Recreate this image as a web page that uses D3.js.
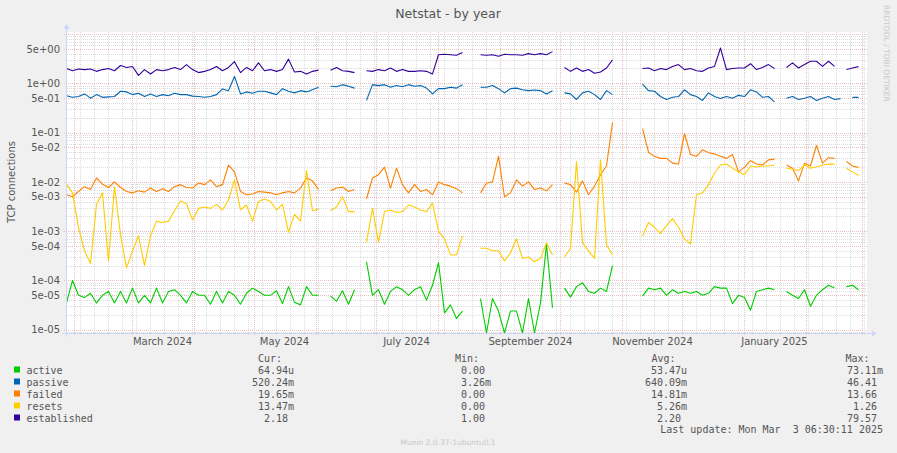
<!DOCTYPE html>
<html>
<head>
<meta charset="utf-8">
<script src="https://cdn.jsdelivr.net/npm/d3@7"></script>
<style>
body{margin:0;background:#f0f0f0;}
text{font-family:"DejaVu Sans",sans-serif;fill:#555;}
.mono{font-family:"DejaVu Sans Mono",monospace;white-space:pre;font-size:10px;}
</style>
</head>
<body>
<svg id="chart" width="897" height="453"></svg>
<script>
// time range of the year graph, one sample every 3 days
var yearStart = new Date(Date.UTC(2024, 0, 28, 6, 30, 11));
var yearEnd = new Date(Date.UTC(2025, 2, 3, 6, 30, 11));
var stepDays = 3;

var monthLabels = ["March 2024","May 2024","July 2024","September 2024","November 2024","January 2025"];
var labelDates = ["2024-03-16","2024-05-16","2024-07-16","2024-09-16","2024-11-16","2025-01-16"];
var yTicks = [5, 1, 0.5, 0.1, 0.05, 0.01, 0.005, 0.001, 5e-4, 1e-4, 5e-5, 1e-5];

var seriesNames = ["active","passive","failed","resets","established"];
var seriesColors = ["#00cc00","#0066b3","#ff8000","#ffcc00","#330099"];
var curText = [" 64.94u","520.24m"," 19.65m"," 13.47m","  2.18 "];
var minText = [" 0.00 "," 3.26m"," 0.00 "," 0.00 "," 1.00 "];
var avgText = [" 53.47u","640.09m"," 14.81m","  5.26m","  2.20 "];
var maxText = [" 73.11m"," 46.41 "," 13.66 ","  1.26 "," 79.57 "];

var active = [
3.5e-5,1.0e-4,5e-5,4.5e-5,5.5e-5,3.5e-5,5e-5,6e-5,3.5e-5,6e-5,
3.5e-5,7e-5,3.5e-5,5e-5,3.5e-5,7e-5,3.5e-5,6e-5,6.5e-5,5e-5,
3.5e-5,6e-5,5e-5,5e-5,3.3e-5,6e-5,3.5e-5,6e-5,5e-5,3.3e-5,
5.5e-5,7e-5,6e-5,5e-5,5e-5,6.2e-5,3.4e-5,7.5e-5,3.6e-5,3.2e-5,
7.5e-5,5e-5,5e-5,null,4.8e-5,3.8e-5,6.2e-5,3.3e-5,6.5e-5,null,
2.4e-4,5e-5,6.5e-5,3.3e-5,6e-5,7.5e-5,6.5e-5,5e-5,6.5e-5,7.5e-5,
4e-5,8e-5,2.3e-4,2.2e-5,3.2e-5,1.7e-5,2.4e-5,null,null,4.3e-5,
0,4.3e-5,2.4e-5,0,2.4e-5,2.4e-5,0,4.3e-5,0,3.5e-5,
5.5e-4,2.8e-5,null,7e-5,4.6e-5,7.5e-5,9e-5,6e-5,5.5e-5,7e-5,
6e-5,2e-4,null,null,null,null,4.8e-5,7e-5,6.5e-5,7e-5,
5e-5,6.5e-5,5.5e-5,6e-5,5.5e-5,6e-5,5e-5,5.5e-5,7.5e-5,7e-5,
7e-5,3.4e-5,5e-5,4.5e-5,2.5e-5,6e-5,6.5e-5,7e-5,6.5e-5,null,
6e-5,5e-5,4.3e-5,6.5e-5,3e-5,5e-5,6.5e-5,8e-5,7e-5,null,
7.5e-5,8e-5,6.5e-5,null];

var passive = [
0.56,0.52,0.54,0.61,0.5,0.59,0.52,0.53,0.54,0.69,
0.67,0.59,0.63,0.54,0.61,0.54,0.59,0.56,0.63,0.59,
0.59,0.55,0.54,0.52,0.54,0.59,0.77,0.71,1.38,0.61,
0.67,0.63,0.69,0.69,0.64,0.59,0.78,0.69,0.64,0.71,
0.67,0.74,0.83,null,0.87,0.85,0.94,0.87,0.8,null,
0.45,0.94,0.9,0.94,0.83,0.9,0.85,0.94,0.87,0.9,
0.8,0.61,0.78,0.78,0.83,0.8,0.94,null,null,0.83,
0.83,0.9,0.78,0.64,0.78,0.8,0.74,0.71,0.73,0.71,
0.61,0.71,null,0.64,0.61,0.47,0.64,0.69,0.59,0.47,
0.71,0.59,null,null,null,null,0.96,0.71,0.69,0.54,
0.47,0.52,0.54,0.74,0.59,0.54,0.45,0.64,0.54,0.49,
0.54,0.5,0.57,0.54,0.74,0.67,0.52,0.54,0.42,null,
0.5,0.54,0.47,0.5,0.54,0.45,0.5,0.54,0.47,0.49,
null,0.52,0.52,null];

var failed = [
0.0055,0.005,0.0064,0.008,0.007,0.012,0.009,0.0077,0.01,0.0077,
0.0064,0.006,0.0066,0.0062,0.0075,0.0064,0.0073,0.0064,0.008,0.0088,
0.0077,0.0075,0.0095,0.0088,0.011,0.008,0.0088,0.022,0.016,0.0064,
0.0055,0.0057,0.0064,0.0062,0.006,0.0055,0.006,0.0064,0.006,0.0075,
0.012,0.0105,0.007,null,0.0066,0.0075,0.0079,0.0064,0.007,null,
0.0045,0.012,0.014,0.02,0.0075,0.019,0.0088,0.006,0.0088,0.0064,
0.007,0.0055,0.01,0.0088,0.0082,0.0073,0.006,null,null,0.006,
0.0095,0.01,0.033,0.005,0.006,0.011,0.0082,0.01,0.007,0.0075,
0.0066,0.0088,null,0.0095,0.0088,0.0062,0.0105,0.0055,0.0082,0.014,
0.021,0.16,null,null,null,null,0.12,0.04,0.033,0.03,
0.03,0.024,0.023,0.095,0.036,0.033,0.045,0.039,0.037,0.033,
0.03,0.036,0.016,0.02,0.027,0.023,0.022,0.028,0.029,null,
0.022,0.019,0.0105,0.024,0.021,0.055,0.024,0.031,0.03,null,
0.026,0.021,0.0197,null];

var resets = [
0.009,0.006,0.0012,0.0004,0.00022,0.0035,0.006,0.00025,0.008,0.00085,
0.00018,0.0004,0.0008,0.0002,0.0008,0.0016,0.0015,0.0016,0.0026,0.0041,
0.0036,0.0017,0.0029,0.0031,0.0029,0.0035,0.0027,0.0043,0.011,0.0027,
0.0034,0.0016,0.004,0.0045,0.004,0.0027,0.0035,0.00095,0.0022,0.0016,
0.017,0.0026,0.0028,null,0.0026,0.0031,0.005,0.0025,0.0025,null,
0.0006,0.0029,0.0006,0.0025,0.0027,0.0024,0.0025,0.0034,0.0031,0.0027,
0.0025,0.0037,0.001,0.0007,0.00033,0.00033,0.0008,null,null,0.00045,
0.00045,0.0004,0.0004,0.00025,0.00036,0.0007,0.00028,0.0003,0.00024,0.00028,
0.00058,0.00033,null,0.0003,0.00045,0.026,0.00058,0.0004,0.00028,0.028,
0.00053,0.00033,null,null,null,null,0.0008,0.0015,0.0012,0.0009,
0.0013,0.0018,0.0012,0.0007,0.00055,0.0055,0.006,0.0088,0.015,0.022,
0.023,0.019,0.016,0.014,0.021,0.02,0.021,0.021,0.022,null,
0.019,0.018,0.017,0.022,0.019,0.02,0.022,0.023,0.023,null,
0.019,0.016,0.0135,null];

var established = [
2.0,1.8,1.95,1.9,1.95,1.75,1.9,2.0,1.8,2.3,
2.1,2.2,1.45,1.9,1.55,1.9,1.8,1.9,2.1,1.9,
2.4,1.9,1.65,1.75,1.9,2.2,1.8,2.1,2.75,1.65,
2.1,1.8,2.6,1.8,1.9,1.75,1.9,3.1,1.7,1.75,
1.55,1.75,1.85,null,1.85,2.1,1.8,1.75,1.65,null,
1.8,1.75,1.9,1.8,2.05,1.75,1.9,1.75,1.75,1.8,
1.75,1.55,3.8,3.9,3.8,3.7,4.2,null,null,3.8,
3.7,3.8,3.55,3.9,3.8,3.8,3.7,4.0,3.8,4.0,
3.8,4.4,null,2.1,1.75,2.05,1.75,1.9,1.6,1.7,
2.05,3.0,null,null,null,null,2.0,2.05,1.8,2.0,
1.9,2.2,2.4,1.9,2.0,1.8,1.75,2.05,2.2,5.2,
1.9,2.0,2.05,2.05,2.5,1.9,2.1,2.4,2.0,null,
2.1,2.6,2.05,2.4,2.8,2.8,2.2,2.8,2.2,null,
1.9,2.05,2.18,null];

var seriesData = [active, passive, failed, resets, established];

var svg = d3.select("#chart");
svg.append("rect").attr("width", 897).attr("height", 453).attr("fill", "#f0f0f0");

var plot = {left: 67, right: 867, top: 32, bottom: 333};
svg.append("rect")
   .attr("x", plot.left).attr("y", plot.top)
   .attr("width", plot.right - plot.left).attr("height", plot.bottom - plot.top)
   .attr("fill", "#ffffff");

var xScale = d3.scaleUtc().domain([yearStart, yearEnd]).range([66.5, 866.5]);
var yScale = d3.scaleLog().domain([8.6e-6, 11]).range([plot.bottom, plot.top]).clamp(true);

var gridMinor = "#dcdcdc", gridMajor = "#ebbdbd", axisColor = "#cfd6f8";

// horizontal grid, 1 and 5 of each decade are the major lines
var minorY = [], majorY = [];
for (var e = -6; e <= 1; e++) {
  for (var m = 1; m <= 9; m++) {
    var v = m * Math.pow(10, e);
    if (v < 8.6e-6 || v > 11) continue;
    if (m == 1 || m == 5) majorY.push(v); else minorY.push(v);
  }
}
var grid = svg.append("g");
grid.selectAll(".hmin").data(minorY).enter().append("line")
    .attr("x1", plot.left).attr("x2", plot.right)
    .attr("y1", function(d){return Math.round(yScale(d)) + 0.5})
    .attr("y2", function(d){return Math.round(yScale(d)) + 0.5})
    .attr("stroke", gridMinor).attr("stroke-dasharray", "1,1");
grid.selectAll(".vmin").data(d3.utcSunday.range(yearStart, yearEnd)).enter().append("line")
    .attr("x1", function(d){return Math.round(xScale(d)) + 0.5})
    .attr("x2", function(d){return Math.round(xScale(d)) + 0.5})
    .attr("y1", plot.top).attr("y2", plot.bottom + 2)
    .attr("stroke", gridMinor).attr("stroke-dasharray", "1,1");
grid.selectAll(".hmaj").data(majorY).enter().append("line")
    .attr("x1", plot.left - 3).attr("x2", plot.right)
    .attr("y1", function(d){return Math.round(yScale(d)) + 0.5})
    .attr("y2", function(d){return Math.round(yScale(d)) + 0.5})
    .attr("stroke", gridMajor).attr("stroke-dasharray", "1,1");
grid.selectAll(".vmaj").data(d3.utcMonth.range(yearStart, yearEnd)).enter().append("line")
    .attr("x1", function(d){return Math.round(xScale(d)) + 0.5})
    .attr("x2", function(d){return Math.round(xScale(d)) + 0.5})
    .attr("y1", plot.top).attr("y2", plot.bottom + 3)
    .attr("stroke", gridMajor).attr("stroke-dasharray", "1,1");

// series lines
var dates = d3.range(active.length).map(function(i){return d3.utcDay.offset(yearStart, i * stepDays)});
var drawLine = d3.line()
    .defined(function(d){return d[1] != null})
    .x(function(d){return xScale(d[0])})
    .y(function(d){return yScale(d[1])});
seriesData.forEach(function(values, k){
  svg.append("path")
     .datum(values.map(function(v, i){return [dates[i], v]}))
     .attr("d", drawLine)
     .attr("fill", "none")
     .attr("stroke", seriesColors[k])
     .attr("stroke-width", 1.1)
     .attr("stroke-linejoin", "round");
});

// axes lines with arrows
svg.append("line").attr("x1", 62).attr("x2", 872).attr("y1", 333.5).attr("y2", 333.5).attr("stroke", axisColor);
svg.append("path").attr("d", "M872,330.5L877,333.5L872,336.5Z").attr("fill", axisColor);
svg.append("line").attr("x1", 66.5).attr("x2", 66.5).attr("y1", 337).attr("y2", 29).attr("stroke", axisColor);
svg.append("path").attr("d", "M63.5,29L66.5,24L69.5,29Z").attr("fill", axisColor);

var fmtExp = function(v){
  var ex = Math.floor(Math.log10(v) + 1e-9);
  var man = Math.round(v / Math.pow(10, ex));
  return man + "e" + (ex < 0 ? "-" : "+") + String(Math.abs(ex)).padStart(2, "0");
};
var yAxis = d3.axisLeft(yScale).tickValues(yTicks).tickFormat(fmtExp).tickSize(0).tickPadding(7);
var yg = svg.append("g").attr("transform", "translate(" + plot.left + ",0)").call(yAxis);
yg.select(".domain").remove();
yg.selectAll("text").attr("font-size", 10).attr("font-family", "DejaVu Sans").attr("fill", "#555");

var xAxis = d3.axisBottom(xScale)
    .tickValues(labelDates.map(function(s){return new Date(s + "T00:00:00Z")}))
    .tickFormat(function(d, i){return monthLabels[i]})
    .tickSize(0).tickPadding(5);
var xg = svg.append("g").attr("transform", "translate(0," + plot.bottom + ")").call(xAxis);
xg.select(".domain").remove();
xg.selectAll("text").attr("font-size", 10).attr("font-family", "DejaVu Sans").attr("fill", "#555");

// titles
svg.append("text").attr("x", 448).attr("y", 18).attr("text-anchor", "middle")
   .attr("font-size", 12.5).text("Netstat - by year");
svg.append("text").attr("transform", "translate(15,182) rotate(-90)").attr("text-anchor", "middle")
   .attr("font-size", 10).text("TCP connections");
svg.append("text").attr("transform", "translate(884,5) rotate(90)")
   .attr("font-size", 7.5).style("fill", "#c8c8c8").text("RRDTOOL / TOBI OETIKER");

// legend
var legend = svg.append("g");
var headY = 361.5;
[["Cur:", 258], ["Min:", 455], ["Avg:", 651.5], ["Max:", 845.5]].forEach(function(h){
  legend.append("text").attr("class", "mono").attr("x", h[1]).attr("y", headY).text(h[0]);
});
seriesNames.forEach(function(name, k){
  var ry = 373.5 + k * 12;
  legend.append("rect").attr("x", 14).attr("y", ry - 7).attr("width", 6).attr("height", 6)
        .attr("fill", seriesColors[k]);
  legend.append("text").attr("class", "mono").attr("x", 26.5).attr("y", ry).text(name);
  legend.append("text").attr("class", "mono").attr("x", 252).attr("y", ry).text(curText[k]);
  legend.append("text").attr("class", "mono").attr("x", 455).attr("y", ry).text(minText[k]);
  legend.append("text").attr("class", "mono").attr("x", 645).attr("y", ry).text(avgText[k]);
  legend.append("text").attr("class", "mono").attr("x", 841).attr("y", ry).text(maxText[k]);
});
legend.append("text").attr("class", "mono").attr("x", 883).attr("y", 433).attr("text-anchor", "end")
      .text("Last update: Mon Mar  3 06:30:11 2025");
svg.append("text").attr("x", 448).attr("y", 445).attr("text-anchor", "middle")
   .attr("font-size", 7.5).style("fill", "#c8c8c8").text("Munin 2.0.37-1ubuntu0.1");
</script>
</body>
</html>
